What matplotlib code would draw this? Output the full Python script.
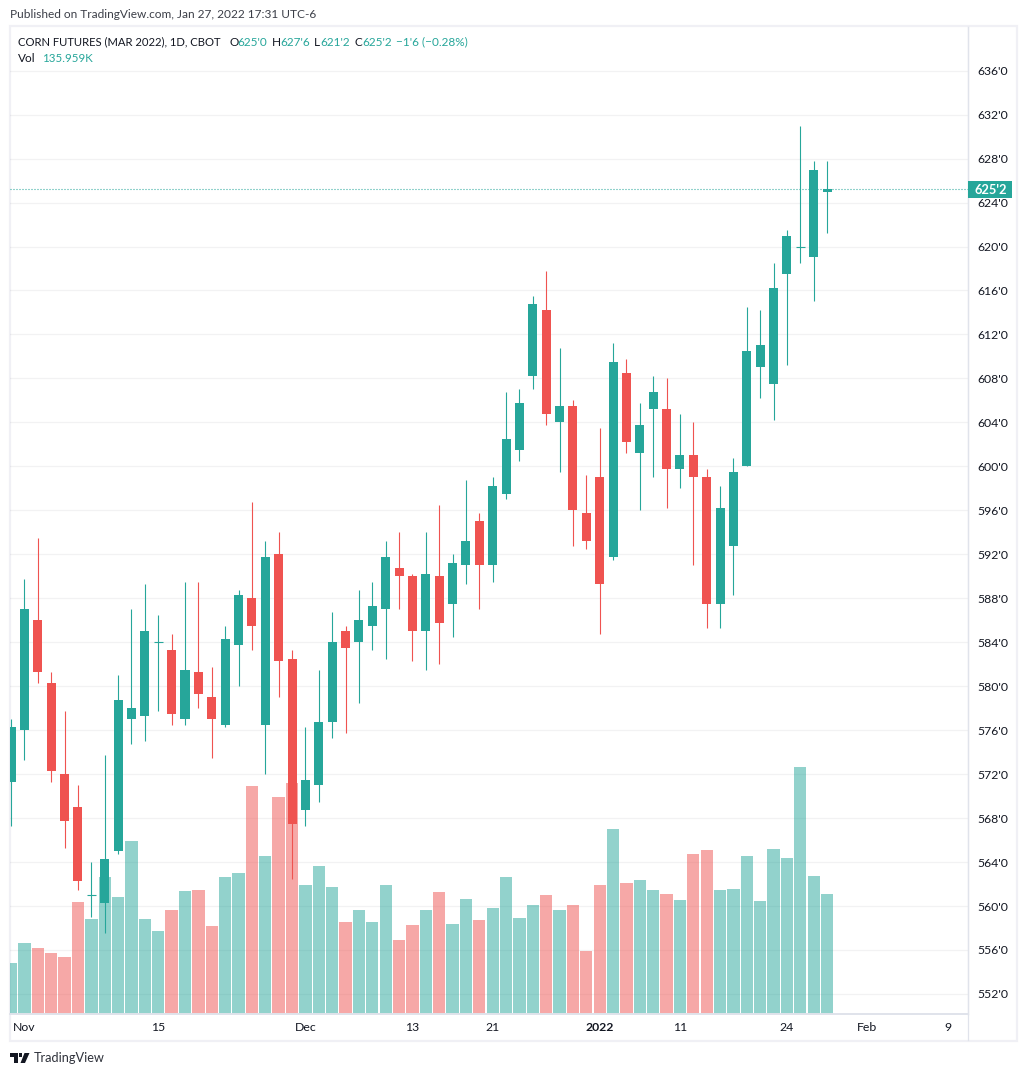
import numpy as np
import matplotlib
matplotlib.use('Agg')
import matplotlib.pyplot as plt
from matplotlib.patches import Rectangle, Polygon

# daily candles, prices in cents
opens = [571.25, 576.0, 586.0, 580.25, 572.0, 569.0, 561.0, 560.25, 565.0, 577.0,
         577.25, 584.0, 583.25, 577.0, 581.25, 579.0, 576.5, 583.75, 588.0, 576.5,
         592.0, 582.5, 568.75, 571.0, 576.75, 585.0, 584.0, 585.5, 587.0, 590.75,
         590.0, 585.0, 590.0, 587.5, 591.0, 595.0, 591.0, 597.5, 601.5, 608.25,
         614.25, 604.0, 605.5, 595.75, 599.0, 591.75, 608.5, 601.25, 605.25, 605.25,
         599.75, 601.0, 599.0, 587.5, 592.75, 600.0, 609.0, 607.5, 617.5, 620.0,
         619.0, 625.0]
highs = [577.0, 589.75, 593.5, 581.25, 577.75, 571.0, 564.0, 573.75, 581.0, 587.0,
         589.25, 586.5, 584.75, 589.5, 589.5, 581.75, 585.5, 588.75, 596.75, 593.25,
         594.0, 583.25, 576.25, 581.5, 586.75, 585.5, 588.75, 589.5, 593.25, 594.0,
         590.25, 594.0, 596.5, 592.0, 598.75, 595.75, 599.0, 606.75, 607.0, 615.5,
         617.75, 610.75, 606.0, 599.25, 603.5, 611.25, 609.75, 605.75, 608.25, 608.0,
         604.75, 604.0, 599.75, 598.25, 600.75, 614.5, 614.25, 618.5, 621.5, 631.0,
         627.75, 627.75]
lows = [567.25, 573.25, 580.25, 571.25, 565.25, 561.5, 559.0, 557.5, 564.75, 574.75,
        575.0, 577.75, 576.5, 576.5, 578.0, 573.5, 576.25, 580.0, 583.25, 572.0,
        579.0, 562.5, 567.25, 569.5, 575.25, 575.75, 578.5, 583.25, 582.5, 587.0,
        582.25, 581.5, 582.0, 584.5, 589.25, 587.0, 589.5, 597.0, 600.5, 607.0,
        603.75, 599.5, 592.75, 592.5, 584.75, 591.5, 601.25, 596.0, 599.0, 596.25,
        598.0, 591.0, 585.25, 585.25, 588.25, 600.0, 606.25, 604.25, 609.25, 618.5,
        615.0, 621.25]
closes = [576.25, 587.0, 581.25, 572.25, 567.75, 562.25, 561.0, 564.25, 578.75, 578.0,
          585.0, 584.0, 577.5, 581.5, 579.25, 577.0, 584.25, 588.25, 585.5, 591.75,
          582.25, 567.5, 571.5, 576.75, 584.0, 583.5, 586.0, 587.25, 591.75, 590.0,
          585.0, 590.25, 585.75, 591.25, 593.25, 591.0, 598.25, 602.5, 605.75, 614.75,
          604.75, 605.5, 596.0, 593.25, 589.25, 609.5, 602.25, 603.75, 606.75, 599.75,
          601.0, 599.0, 587.5, 596.25, 599.5, 610.5, 611.0, 616.25, 621.0, 620.0,
          627.0, 625.25]
# volume in thousands, red = 1 where the bar is red
volumes = [57.3, 80.1, 74.4, 68.7, 64.2, 126.9, 107.5, 155.4, 132.6, 196.4,
           107.5, 93.8, 117.8, 139.4, 140.6, 99.5, 155.4, 159.9, 259.1, 179.3,
           246.6, 262.5, 146.3, 167.9, 144.0, 104.1, 117.8, 104.1, 146.3, 83.6,
           100.7, 117.8, 138.3, 101.8, 130.3, 106.4, 120.0, 155.4, 108.6, 123.5,
           134.9, 117.8, 123.5, 71.0, 146.3, 210.1, 148.5, 152.0, 140.6, 136.0,
           129.2, 181.6, 186.2, 140.6, 141.7, 179.3, 128.0, 187.3, 177.0, 280.8,
           156.5, 135.96]
volume_red = [0, 0, 1, 1, 1, 1, 0, 0, 0, 0, 0, 0, 1, 0, 1, 1, 0, 0, 1, 0,
              1, 1, 0, 0, 0, 1, 0, 0, 0, 1, 1, 0, 1, 0, 0, 1, 0, 0, 0, 0,
              1, 0, 1, 1, 1, 0, 1, 0, 0, 1, 0, 1, 1, 0, 0, 0, 0, 0, 0, 0,
              0, 0]

price_ticks = list(range(552, 637, 4))
date_ticks = [1, 11, 22, 30, 36, 44, 50, 58, 64, 70]
date_labels = ['Nov', '15', 'Dec', '13', '21', '2022', '11', '24', 'Feb', '9']

W, H = 1026, 1076
GREEN = '#26a69a'
RED = '#ef5350'
TEXT = '#131722'
FRAME = '#f0f0f5'
BORDER = '#e0e3eb'
FONT = ['Lato', 'DejaVu Sans']

plt.rcParams['font.family'] = FONT


def fx(px):
    return px / W


def fy(py):
    return 1 - py / H


def pixel_text(x, y, s, size=8.6, color=TEXT, **kw):
    return fig.text(fx(x), fy(y), s, fontsize=size, color=color, va='center', **kw)


fig = plt.figure(figsize=(W / 100, H / 100), dpi=100, facecolor='white')

# outer frame around chart and both scales
fig.add_artist(Rectangle((fx(9.5), fy(1040.5)), fx(1007), 1015 / H, fill=False,
                         edgecolor=FRAME, linewidth=1.6))

left, right, top, bottom = 10, 968, 27, 1013.5
rect = [fx(left), fy(bottom), fx(right - left), (bottom - top) / H]

ax = fig.add_axes(rect)
ax_vol = ax.twinx()
ax.set_zorder(2)
ax_vol.set_zorder(1)
ax.patch.set_visible(False)

x = np.arange(len(opens))
spacing = 13.377
xlim = ((left - 11.1) / spacing, (right - 11.1) / spacing)
ylim = (550.22, 639.97)
vol_max = 1124.4

# volume layer, grid sits under it
vol_colors = [RED if r else GREEN for r in volume_red]
ax_vol.bar(x, volumes, width=0.92, color=vol_colors, alpha=0.5, linewidth=0)
ax_vol.set_ylim(0, vol_max)
vol_ticks = (np.array(price_ticks) - ylim[0]) / (ylim[1] - ylim[0]) * vol_max
ax_vol.set_yticks(vol_ticks)
ax_vol.tick_params(left=False, right=False, labelleft=False, labelright=False)
ax_vol.set_axisbelow(True)
ax_vol.grid(True, axis='y', color='#2a2e39', alpha=0.06, linewidth=0.9)
ax_vol.grid(True, axis='x', color='#2a2e39', alpha=0.09, linewidth=0.9)

# candles
for i in x:
    up = closes[i] >= opens[i]
    color = GREEN if up else RED
    ax.vlines(i, lows[i], highs[i], color=color, linewidth=0.8, zorder=3, snap=True)
    low_edge = min(opens[i], closes[i])
    height = abs(closes[i] - opens[i])
    if height == 0:
        ax.hlines(opens[i], i - 0.336, i + 0.336, color=color, linewidth=0.8, zorder=4, snap=True)
    else:
        ax.bar(i, height, bottom=low_edge, width=0.673, color=color, linewidth=0, zorder=4)

# last price line, 1px on 2px off
ax.axhline(closes[-1], color=GREEN, linestyle=(0, (0.9, 1.8)), linewidth=0.8, zorder=2)

ax.set_xlim(xlim)
ax.set_ylim(ylim)
ax.set_xticks(date_ticks)
ax.set_xticklabels(date_labels)
ax.yaxis.tick_right()
ax.set_yticks(price_ticks)
ax.set_yticklabels([f"{p}'0" for p in price_ticks])
ax.tick_params(axis='y', length=0, pad=7, labelsize=8.8, labelcolor=TEXT)
ax.tick_params(axis='x', length=0, pad=6, labelsize=8.8, labelcolor=TEXT)
for lbl in ax.get_xticklabels():
    if lbl.get_text() == '2022':
        lbl.set_fontweight('bold')

for a in (ax, ax_vol):
    for name in ('top', 'left'):
        a.spines[name].set_visible(False)
    a.spines['right'].set_color(BORDER)
    a.spines['bottom'].set_color(BORDER)
    a.spines['right'].set_linewidth(0.9)
    a.spines['bottom'].set_linewidth(1.2)

# scale separators run on through the time axis strip
fig.add_artist(plt.Line2D([fx(right), fx(right)], [fy(bottom), fy(1040)], color=BORDER, linewidth=0.9))

# last price tag, above the tick labels
ax.add_artist(Rectangle((fx(968), fy(198)), 44 / W, 17 / H, transform=fig.transFigure,
                        facecolor=GREEN, edgecolor='none', clip_on=False, zorder=10))
ax.text(fx(990.5), fy(189.5), "625'2", transform=fig.transFigure, color='white', fontsize=9.3,
        fontweight='bold', ha='center', va='center', clip_on=False, zorder=11)

# header texts
pixel_text(10, 15, 'Published on TradingView.com, Jan 27, 2022 17:31 UTC-6', size=8.6, color='#3c3f48')
pixel_text(18, 42, 'CORN FUTURES (MAR 2022), 1D, CBOT', size=8.15)
for px, s, c in [(230, 'O', TEXT), (237.5, "625'0", GREEN), (272, 'H', TEXT), (280, "627'6", GREEN),
                 (314, 'L', TEXT), (320, "621'2", GREEN), (354.5, 'C', TEXT), (362, "625'2", GREEN),
                 (396, "−1'6 (−0.28%)", GREEN)]:
    pixel_text(px, 42, s, size=8.5, color=c)
pixel_text(18, 59, 'Vol', size=8.5)
pixel_text(42, 59, '135.959K', size=8.3, color=GREEN)

# logo and wordmark
logo = '#131722'
fig.add_artist(Polygon([(fx(10), fy(1053)), (fx(18), fy(1053)), (fx(18), fy(1063)),
                        (fx(14), fy(1063)), (fx(14), fy(1057)), (fx(10), fy(1057))],
                       closed=True, facecolor=logo, edgecolor='none'))
fig.add_artist(Polygon([(fx(24.5), fy(1053)), (fx(29.5), fy(1053)), (fx(25), fy(1063)),
                        (fx(20.5), fy(1063))], closed=True, facecolor=logo, edgecolor='none'))
fig.add_artist(Polygon([(fx(19.3), fy(1053.3)), (fx(22), fy(1053.3)), (fx(22), fy(1057)),
                        (fx(19.3), fy(1057))], closed=True, facecolor=logo, edgecolor='none'))
pixel_text(33.5, 1058, 'TradingView', size=9.2, color='#2f323b')

fig.savefig('out.png', dpi=100, facecolor='white')
plt.close(fig)
